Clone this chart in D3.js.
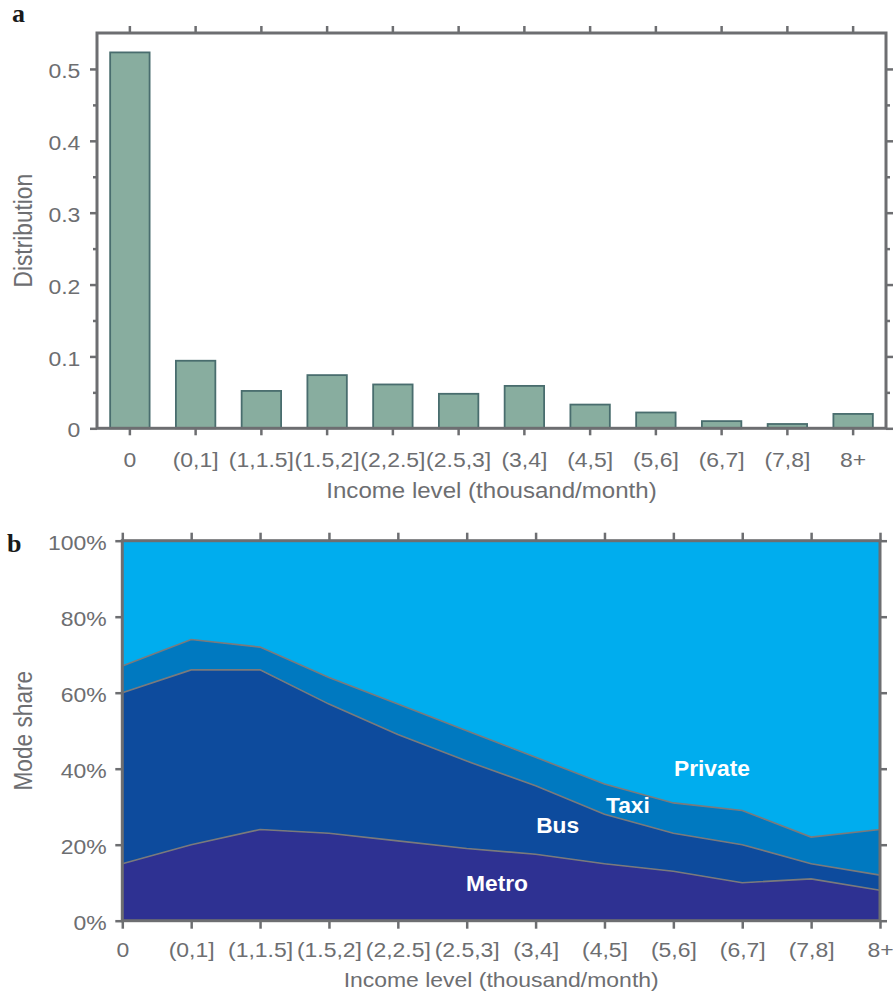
<!DOCTYPE html>
<html>
<head>
<meta charset="utf-8">
<script src="https://cdn.jsdelivr.net/npm/d3@7"></script>
<style>
  body { margin: 0; background: #fff; }
  text { font-family: "Liberation Sans", Arial, Helvetica, sans-serif; }
</style>
</head>
<body>
<svg id="chart" width="893" height="993"></svg>
<script>
// ---- data ----
const incomeLevels = ["0", "(0,1]", "(1,1.5]", "(1.5,2]", "(2,2.5]", "(2.5,3]", "(3,4]", "(4,5]", "(5,6]", "(6,7]", "(7,8]", "8+"];
const distribution = [0.523, 0.094, 0.052, 0.074, 0.061, 0.048, 0.059, 0.033, 0.022, 0.010, 0.006, 0.020];
const distTicks = [0, 0.1, 0.2, 0.3, 0.4, 0.5];
const distMinorTicks = [0.05, 0.15, 0.25, 0.35, 0.45];

const modes = ["Metro", "Bus", "Taxi", "Private"];
const metroShare   = [15, 20, 24, 23, 21, 19, 17.5, 15, 13, 10, 11, 8];
const busShare     = [45, 46, 42, 34, 28, 23, 18, 13, 10, 10, 4, 4];
const taxiShare    = [7, 8, 6, 7, 8, 8, 7.5, 8, 8, 9, 7, 12];
const privateShare = [33, 26, 28, 36, 43, 50, 57, 64, 69, 71, 78, 76];
const shareTicks = [0, 20, 40, 60, 80, 100];

// ---- styling ----
const AXIS = "#6d6e71";
const SX = 1.12;               // horizontal widening of the sans-serif text
const modeColor = { Metro: "#2e3192", Bus: "#0d4b9d", Taxi: "#0079c0", Private: "#00adee" };

const svg = d3.select("#chart");

// widen text horizontally around its anchor point
function widen(sel, sx) {
  sel.each(function () {
    const t = d3.select(this);
    const x = +t.attr("x") || 0, y = +t.attr("y") || 0;
    t.attr("transform", `translate(${x},${y}) scale(${sx},1)`).attr("x", 0).attr("y", 0);
  });
}

function styleAxis(g, labelSize) {
  g.select(".domain").remove();
  g.selectAll(".tick line").attr("stroke", AXIS).attr("stroke-width", 2.5);
  g.selectAll(".tick text").attr("fill", AXIS).style("font-size", labelSize + "px");
}

// ================= panel a: income distribution =================
const A = { left: 97, right: 886, top: 33, bottom: 428.3 };
const xa = d3.scaleBand().domain(incomeLevels).range([A.left, A.right]).paddingInner(0.4).paddingOuter(0.2);
const ya = d3.scaleLinear().domain([0, 0.55]).range([A.bottom, A.top]);

const ga = svg.append("g");

ga.append("g").selectAll("rect").data(distribution).join("rect")
  .attr("x", (d, i) => xa(incomeLevels[i]))
  .attr("y", d => ya(d))
  .attr("width", xa.bandwidth())
  .attr("height", d => ya(0) - ya(d))
  .attr("fill", "#88ad9f")
  .attr("stroke", "#496d6e")
  .attr("stroke-width", 1.8);

// bottom axis with category labels
const axBottomA = ga.append("g").attr("transform", `translate(0,${A.bottom})`)
  .call(d3.axisBottom(xa).tickSize(7));
styleAxis(axBottomA, 20.5);
axBottomA.selectAll(".tick text").attr("y", 38.4).attr("dy", null);
widen(axBottomA.selectAll(".tick text"), SX);

// top axis ticks
const axTopA = ga.append("g").attr("transform", `translate(0,${A.top})`)
  .call(d3.axisTop(xa).tickSize(7).tickFormat(""));
styleAxis(axTopA, 10);

// left axis, major + minor
const axLeftA = ga.append("g").attr("transform", `translate(${A.left},0)`)
  .call(d3.axisLeft(ya).tickValues(distTicks).tickSize(7).tickFormat(d => d === 0 ? "0" : d.toFixed(1)));
styleAxis(axLeftA, 20.5);
axLeftA.selectAll(".tick text").attr("x", -16.7).attr("dy", "0.42em");
widen(axLeftA.selectAll(".tick text"), SX);
const axLeftMinorA = ga.append("g").attr("transform", `translate(${A.left},0)`)
  .call(d3.axisLeft(ya).tickValues(distMinorTicks).tickSize(4).tickFormat(""));
styleAxis(axLeftMinorA, 10);

// right axis, major + minor
const axRightA = ga.append("g").attr("transform", `translate(${A.right},0)`)
  .call(d3.axisRight(ya).tickValues(distTicks).tickSize(7).tickFormat(""));
styleAxis(axRightA, 10);
const axRightMinorA = ga.append("g").attr("transform", `translate(${A.right},0)`)
  .call(d3.axisRight(ya).tickValues(distMinorTicks).tickSize(4).tickFormat(""));
styleAxis(axRightMinorA, 10);

ga.append("rect")
  .attr("x", A.left).attr("y", A.top)
  .attr("width", A.right - A.left).attr("height", A.bottom - A.top)
  .attr("fill", "none").attr("stroke", AXIS).attr("stroke-width", 3);

// axis titles
const xtA = ga.append("text")
  .attr("x", (A.left + A.right) / 2).attr("y", 498.3)
  .attr("text-anchor", "middle").attr("fill", AXIS).style("font-size", "21.5px")
  .text("Income level (thousand/month)");
widen(xtA, SX);

ga.append("text")
  .attr("transform", `translate(31.7,${(A.top + A.bottom) / 2}) scale(${SX},1) rotate(-90)`)
  .attr("text-anchor", "middle").attr("fill", AXIS).style("font-size", "22.7px")
  .text("Distribution");

svg.append("text").attr("x", 12).attr("y", 22)
  .style("font-family", "'Liberation Serif', 'Times New Roman', serif")
  .style("font-weight", "bold").style("font-size", "26px").attr("fill", "#1a1a1a")
  .text("a");

// ================= panel b: mode share =================
const B = { left: 122.3, right: 880, top: 540.7, bottom: 920.7 };
const xb = d3.scalePoint().domain(incomeLevels).range([B.left, B.right]);
const xbIdx = d3.scaleLinear().domain([0, incomeLevels.length - 1]).range([B.left, B.right]);
const yb = d3.scaleLinear().domain([0, 100]).range([B.bottom, B.top]);

const shareRows = incomeLevels.map((lvl, i) => ({
  level: lvl, Metro: metroShare[i], Bus: busShare[i], Taxi: taxiShare[i], Private: privateShare[i]
}));
const stacked = d3.stack().keys(modes)(shareRows);

const gb = svg.append("g");

const area = d3.area()
  .x(d => xb(d.data.level))
  .y0(d => yb(d[0]))
  .y1(d => yb(d[1]));

gb.append("g").selectAll("path").data(stacked).join("path")
  .attr("d", area)
  .attr("fill", s => modeColor[s.key]);

// boundary lines between modes
const topLine = d3.line().x(d => xb(d.data.level)).y(d => yb(d[1]));
gb.append("g").selectAll("path").data(stacked.filter(s => s.key !== "Private")).join("path")
  .attr("d", topLine)
  .attr("fill", "none").attr("stroke", "#7a7a7c").attr("stroke-width", 1.6);

// mode labels, placed in data space (category index, share)
const modeLabelAnchors = [
  { mode: "Metro", at: 5.44, share: 7.8 },
  { mode: "Bus", at: 6.32, share: 23.2 },
  { mode: "Taxi", at: 7.34, share: 28.3 },
  { mode: "Private", at: 8.56, share: 38.1 }
];
const ml = gb.append("g").selectAll("text").data(modeLabelAnchors).join("text")
  .attr("x", d => xbIdx(d.at)).attr("y", d => yb(d.share))
  .attr("text-anchor", "middle").attr("fill", "#ffffff")
  .style("font-weight", "bold").style("font-size", "21.5px")
  .text(d => d.mode);
widen(ml, 1.06);

// axes
const axBottomB = gb.append("g").attr("transform", `translate(0,${B.bottom})`)
  .call(d3.axisBottom(xb).tickSize(8));
styleAxis(axBottomB, 20.5);
axBottomB.selectAll(".tick text").attr("y", 36).attr("dy", null);
widen(axBottomB.selectAll(".tick text"), SX);

const axTopB = gb.append("g").attr("transform", `translate(0,${B.top})`)
  .call(d3.axisTop(xb).tickSize(8).tickFormat(""));
styleAxis(axTopB, 10);

const axLeftB = gb.append("g").attr("transform", `translate(${B.left},0)`)
  .call(d3.axisLeft(yb).tickValues(shareTicks).tickSize(7).tickFormat(d => d + "%"));
styleAxis(axLeftB, 20.5);
axLeftB.selectAll(".tick text").attr("x", -15.6).attr("dy", "0.45em");
widen(axLeftB.selectAll(".tick text"), SX);

const axRightB = gb.append("g").attr("transform", `translate(${B.right},0)`)
  .call(d3.axisRight(yb).tickValues(shareTicks).tickSize(7).tickFormat(""));
styleAxis(axRightB, 10);

gb.append("rect")
  .attr("x", B.left).attr("y", B.top)
  .attr("width", B.right - B.left).attr("height", B.bottom - B.top)
  .attr("fill", "none").attr("stroke", AXIS).attr("stroke-width", 3);

const xtB = gb.append("text")
  .attr("x", (B.left + B.right) / 2).attr("y", 987.3)
  .attr("text-anchor", "middle").attr("fill", AXIS).style("font-size", "20.5px")
  .text("Income level (thousand/month)");
widen(xtB, SX);

gb.append("text")
  .attr("transform", `translate(31.7,${(B.top + B.bottom) / 2}) scale(${SX},1) rotate(-90)`)
  .attr("text-anchor", "middle").attr("fill", AXIS).style("font-size", "22.7px")
  .text("Mode share");

svg.append("text").attr("x", 7).attr("y", 551.7)
  .style("font-family", "'Liberation Serif', 'Times New Roman', serif")
  .style("font-weight", "bold").style("font-size", "26px").attr("fill", "#1a1a1a")
  .text("b");
</script>
</body>
</html>
